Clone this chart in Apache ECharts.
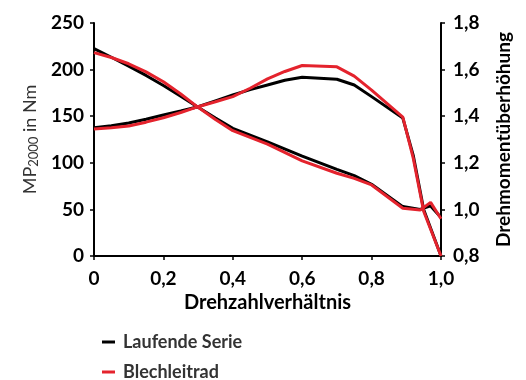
<!DOCTYPE html>
<html><head><meta charset="utf-8">
<script src="https://cdn.jsdelivr.net/npm/echarts@6/dist/echarts.min.js"></script>
<style>html,body{margin:0;padding:0;background:#fff}#c{width:526px;height:380px}</style>
</head><body><div id="c"></div>
<script>
// Drehzahlverhältnis (x) values
const xRatio = [0, 0.05, 0.1, 0.15, 0.2, 0.25, 0.3, 0.35, 0.4, 0.5, 0.6, 0.7, 0.75, 0.8, 0.89, 0.94, 0.97, 1.0];
const xTorque = [0, 0.05, 0.1, 0.15, 0.2, 0.25, 0.3, 0.35, 0.4, 0.45, 0.5, 0.55, 0.6, 0.7, 0.75, 0.8, 0.89, 0.92, 0.95, 1.0];
// Drehmomentüberhöhung (right axis)
const ratioSerie = [1.69, 1.653, 1.615, 1.575, 1.532, 1.486, 1.438, 1.392, 1.348, 1.29, 1.229, 1.172, 1.145, 1.108, 1.012, 1.0, 1.015, 0.965];
const ratioBlech = [1.673, 1.652, 1.625, 1.59, 1.548, 1.495, 1.438, 1.386, 1.338, 1.28, 1.208, 1.155, 1.133, 1.105, 1.005, 0.997, 1.03, 0.96];
// MP2000 in Nm (left axis)
const mpSerie = [137.7, 139.8, 142.7, 146.7, 151.3, 155.6, 160.2, 166.5, 172.7, 178.5, 183.5, 188.5, 191.7, 189.6, 183.5, 171, 148, 108, 50, 0];
const mpBlech = [136.3, 137.5, 139.5, 143.6, 148.4, 154, 160.2, 165.5, 171, 180, 190, 198, 204.4, 203, 193, 178, 149, 105, 48, 0];
const seriesNames = ['Laufende Serie', 'Blechleitrad'];
const colors = ['#000000', '#e4232d'];

const zip = (xs, ys) => xs.map((x, i) => [x, ys[i]]);
const font = 'Lato, "Open Sans", sans-serif';
const chart = echarts.init(document.getElementById('c'));
const lineSeries = (name, color, data, yIdx) => ({
  name, type: 'line', yAxisIndex: yIdx, data, showSymbol: false, symbol: 'none',
  lineStyle: { color, width: 3 }, itemStyle: { color }, z: color === '#000000' ? 2 : 3
});
chart.setOption({
  animation: false,
  grid: { left: 94, right: 85, top: 23, bottom: 124 },
  legend: {
    orient: 'vertical', left: 97, top: 326, height: 60, itemWidth: 13, itemHeight: 3, itemGap: 8,
    icon: 'rect', data: seriesNames,
    textStyle: { fontFamily: font, fontWeight: 'bold', fontSize: 18, lineHeight: 22, color: '#333', padding: [0, 0, 0, 3] }
  },
  xAxis: {
    type: 'value', min: 0, max: 1, interval: 0.2,
    name: 'Drehzahlverhältnis', nameLocation: 'middle', nameGap: 31,
    nameTextStyle: { fontFamily: font, fontWeight: 'bold', fontSize: 20, color: '#000' },
    axisLine: { lineStyle: { color: '#000', width: 2 } },
    axisTick: { show: true, length: 4, lineStyle: { color: '#000', width: 1.5 } },
    axisLabel: { margin: 13, fontFamily: font, fontWeight: 'bold', fontSize: 19, color: '#000',
      formatter: v => v === 0 ? '0' : v.toFixed(1).replace('.', ',') },
    splitLine: { show: false }
  },
  yAxis: [{
    type: 'value', min: 0, max: 250, interval: 50, position: 'left',
    name: '{a|MP}{s|2000}{a| in Nm}', nameLocation: 'middle', nameGap: 52,
    nameTextStyle: { rich: {
      a: { fontFamily: font, fontSize: 18, color: '#333' },
      s: { fontFamily: font, fontSize: 13, color: '#333', verticalAlign: 'bottom', padding: [6, 0, 0, 0] } } },
    axisLine: { show: true, lineStyle: { color: '#000', width: 2 } },
    axisTick: { show: true, length: 4, lineStyle: { color: '#000', width: 1.5 } },
    axisLabel: { margin: 10, fontFamily: font, fontWeight: 'bold', fontSize: 19, color: '#000' },
    splitLine: { show: false }
  }, {
    type: 'value', min: 0.8, max: 1.8, interval: 0.2, position: 'right',
    name: 'Drehmomentüberhöhung', nameLocation: 'middle', nameGap: 53,
    nameTextStyle: { fontFamily: font, fontWeight: 'bold', fontSize: 19, color: '#000' },
    axisLine: { show: true, lineStyle: { color: '#000', width: 2 } },
    axisTick: { show: true, length: 4, lineStyle: { color: '#000', width: 1.5 } },
    axisLabel: { margin: 12, fontFamily: font, fontWeight: 'bold', fontSize: 19, color: '#000',
      formatter: v => v.toFixed(1).replace('.', ',') },
    splitLine: { show: false }
  }],
  series: [
    lineSeries(seriesNames[0], colors[0], zip(xTorque, mpSerie), 0),
    lineSeries(seriesNames[0], colors[0], zip(xRatio, ratioSerie), 1),
    lineSeries(seriesNames[1], colors[1], zip(xTorque, mpBlech), 0),
    lineSeries(seriesNames[1], colors[1], zip(xRatio, ratioBlech), 1)
  ]
});
</script></body></html>
